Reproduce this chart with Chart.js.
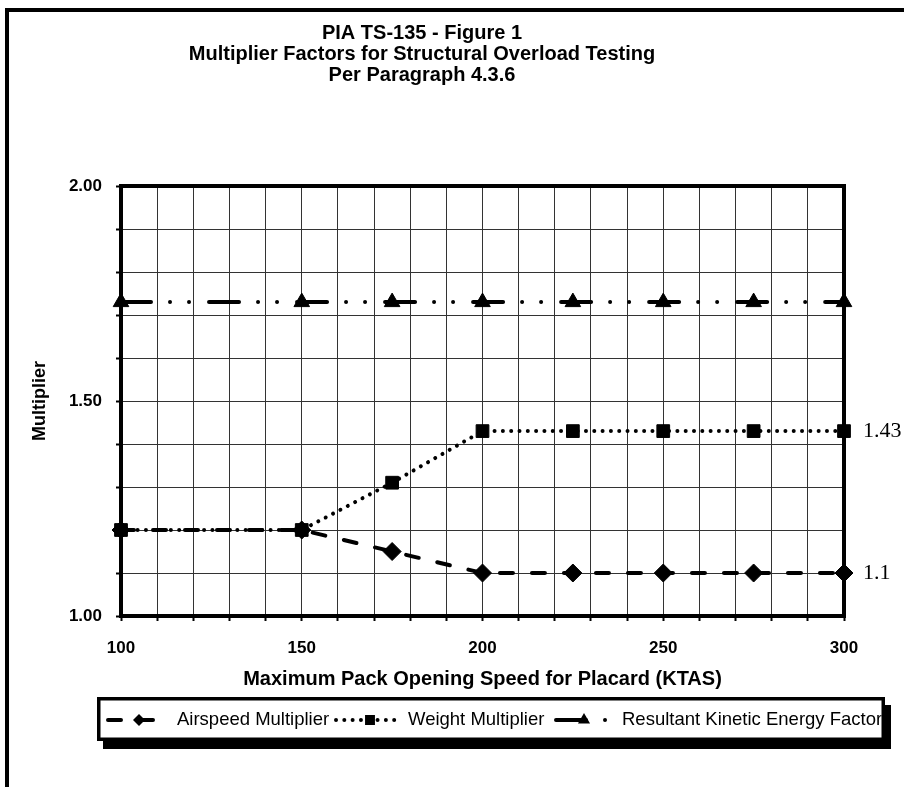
<!DOCTYPE html>
<html>
<head>
<meta charset="utf-8">
<script src="https://cdn.jsdelivr.net/npm/chart.js@4"></script>
<style>
  html, body { margin: 0; padding: 0; background: #fff; }
  canvas { display: block; }
</style>
</head>
<body>
<canvas id="grafico" width="904" height="787"></canvas>
<script>
// velocidade (KTAS) e fatores de cada série
const speeds = [100, 150, 175, 200, 225, 250, 275, 300];
const airspeedMult = [1.2, 1.2, 1.15, 1.1, 1.1, 1.1, 1.1, 1.1];
const weightMult = [1.2, 1.2, 1.31, 1.43, 1.43, 1.43, 1.43, 1.43];
const keFactor = [1.73, 1.73, 1.73, 1.73, 1.73, 1.73, 1.73, 1.73];
const seriesNames = ['Airspeed Multiplier', 'Weight Multiplier', 'Resultant Kinetic Energy Factor'];
const titleLines = ['PIA TS-135 - Figure 1', 'Multiplier Factors for Structural Overload Testing', 'Per Paragraph 4.3.6'];
const xTickLabels = [100, 150, 200, 250, 300];
const yTickLabels = [1.0, 1.5, 2.0];

const SANS = "'Liberation Sans', Arial, sans-serif";
const SERIF = "'Liberation Serif', 'Times New Roman', serif";

const toPoints = ys => ys.map((y, i) => ({ x: speeds[i], y: y }));

function drawMarker(c, style, x, y, r) {
  c.beginPath();
  if (style === 'rectRot') {
    c.moveTo(x - r, y); c.lineTo(x, y - r); c.lineTo(x + r, y); c.lineTo(x, y + r);
  } else if (style === 'rect') {
    const s = r * Math.SQRT1_2;
    c.rect(x - s, y - s, 2 * s, 2 * s);
  } else {
    c.moveTo(x, y - r); c.lineTo(x + r * 0.866, y + r / 2); c.lineTo(x - r * 0.866, y + r / 2);
  }
  c.closePath();
  c.fill();
}

// posição das amostras da legenda (linha, marcador, texto)
const legendSlots = [
  { x0: 108, x1: 158, mx: 139, tx: 177 },
  { x0: 336, x1: 402, mx: 370, tx: 408 },
  { x0: 556, x1: 608, mx: 584, tx: 622 }
];

const decor = {
  id: 'decor',
  beforeDraw(chart) {
    const c = chart.ctx;
    c.save();
    c.fillStyle = '#fff';
    c.fillRect(0, 0, chart.width, chart.height);
    // moldura externa (corta à direita e embaixo)
    c.strokeStyle = '#000';
    c.lineWidth = 4;
    c.strokeRect(7, 10, chart.width + 20, chart.height + 20);
    c.restore();
  },
  beforeDatasetsDraw(chart) {
    const a = chart.chartArea;
    const c = chart.ctx;
    c.save();
    c.strokeStyle = '#000';
    c.lineWidth = 4;
    c.strokeRect(a.left, a.top, a.right - a.left, a.bottom - a.top);
    c.restore();
  },
  afterDraw(chart) {
    const c = chart.ctx;
    const xs = chart.scales.x, ys = chart.scales.y;
    c.save();

    // rótulos no último ponto
    c.fillStyle = '#000';
    c.font = '22px ' + SERIF;
    c.textAlign = 'left';
    c.textBaseline = 'middle';
    [airspeedMult, weightMult].forEach(vals => {
      const last = vals.length - 1;
      c.fillText(String(vals[last]), xs.getPixelForValue(speeds[last]) + 19, ys.getPixelForValue(vals[last]));
    });

    // legenda com sombra
    const lx = 97, ly = 697, lw = 788, lh = 44;
    c.fillStyle = '#000';
    c.fillRect(lx + 6, ly + 8, lw, lh);
    c.fillStyle = '#fff';
    c.fillRect(lx, ly, lw, lh);
    c.strokeStyle = '#000';
    c.lineWidth = 3.5;
    c.strokeRect(lx + 1.75, ly + 1.75, lw - 3.5, lh - 3.5);

    c.beginPath();
    c.rect(lx + 3.5, ly + 3.5, lw - 7, lh - 7);
    c.clip();
    const cy = ly + lh / 2 + 1;
    chart.data.datasets.forEach((ds, i) => {
      const s = legendSlots[i];
      c.strokeStyle = '#000';
      c.lineWidth = ds.borderWidth;
      c.lineCap = 'round';
      c.setLineDash(ds.borderDash);
      c.beginPath();
      c.moveTo(s.x0, cy);
      c.lineTo(s.x1, cy);
      c.stroke();
      c.setLineDash([]);
      c.fillStyle = '#000';
      drawMarker(c, ds.pointStyle, s.mx, cy, ds.pointStyle === 'rectRot' ? 6 : 7);
      c.font = '18.5px ' + SANS;
      c.textBaseline = 'middle';
      c.fillText(ds.label, s.tx, cy);
    });
    c.restore();
  }
};

const ctx = document.getElementById('grafico').getContext('2d');

new Chart(ctx, {
  type: 'line',
  data: {
    datasets: [
      {
        label: seriesNames[0],
        data: toPoints(airspeedMult),
        borderColor: '#000', backgroundColor: '#000',
        borderWidth: 4, borderDash: [13, 19], borderCapStyle: 'round',
        pointStyle: 'rectRot', pointRadius: 9, pointBorderWidth: 1,
        pointBackgroundColor: '#000', pointBorderColor: '#000',
        clip: false
      },
      {
        label: seriesNames[1],
        data: toPoints(weightMult),
        borderColor: '#000', backgroundColor: '#000',
        borderWidth: 4, borderDash: [0.01, 8.3], borderCapStyle: 'round',
        pointStyle: 'rect', pointRadius: 9, pointBorderWidth: 1,
        pointBackgroundColor: '#000', pointBorderColor: '#000',
        clip: false
      },
      {
        label: seriesNames[2],
        data: toPoints(keFactor),
        borderColor: '#000', backgroundColor: '#000',
        borderWidth: 4, borderDash: [30, 19, 0.01, 19, 0.01, 20], borderCapStyle: 'round',
        pointStyle: 'triangle', pointRadius: 9, pointBorderWidth: 1,
        pointBackgroundColor: '#000', pointBorderColor: '#000',
        clip: false
      }
    ]
  },
  options: {
    responsive: false,
    animation: false,
    events: [],
    layout: { padding: { left: 0, right: 60, top: 0, bottom: 91 } },
    plugins: {
      legend: { display: false },
      tooltip: { enabled: false },
      title: {
        display: true,
        text: titleLines,
        color: '#000',
        font: { family: SANS, size: 20, weight: 'bold', lineHeight: 1.05 },
        padding: { top: 22.5, bottom: 100.5 }
      }
    },
    scales: {
      x: {
        type: 'linear',
        min: 100, max: 300,
        ticks: {
          stepSize: 10, autoSkip: false, maxRotation: 0, color: '#000', padding: 17,
          font: { family: SANS, size: 17, weight: 'bold' },
          callback: v => xTickLabels.includes(v) ? String(v) : ''
        },
        grid: { color: '#333', lineWidth: 1, tickLength: 5, tickColor: '#000', tickWidth: 2 },
        border: { display: false },
        title: {
          display: true, text: 'Maximum Pack Opening Speed for Placard (KTAS)', color: '#000',
          font: { family: SANS, size: 20, weight: 'bold' },
          padding: { top: 0, bottom: 5 }
        },
        afterFit(s) { s.height = 80; }
      },
      y: {
        min: 1, max: 2,
        ticks: {
          stepSize: 0.1, autoSkip: false, color: '#000', padding: 14,
          font: { family: SANS, size: 17, weight: 'bold' },
          callback: v => yTickLabels.some(t => Math.abs(t - v) < 1e-6) ? v.toFixed(2) : ''
        },
        grid: { color: '#333', lineWidth: 1, tickLength: 5, tickColor: '#000', tickWidth: 2 },
        border: { display: false },
        title: {
          display: true, text: 'Multiplier', color: '#000',
          font: { family: SANS, size: 18, weight: 'bold' },
          padding: { top: 29, bottom: 0 }
        },
        afterFit(s) { s.width = 121; }
      }
    }
  },
  plugins: [decor]
});
</script>
</body>
</html>
